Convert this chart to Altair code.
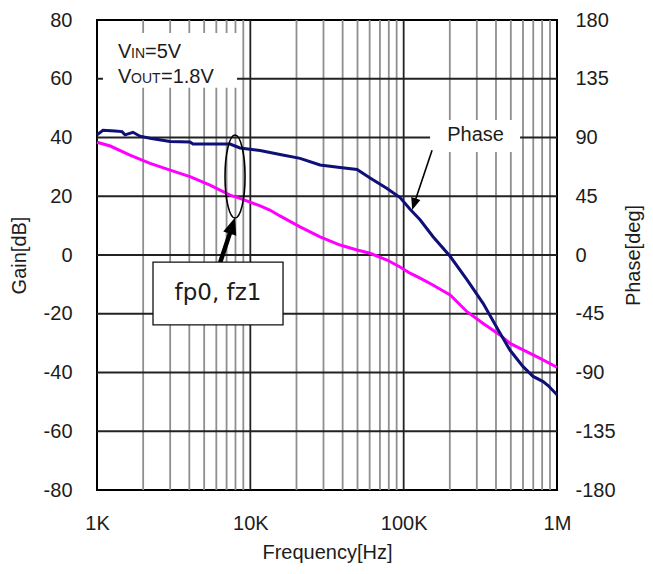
import altair as alt
import pandas as pd

# ---------------- data ----------------
freq_gain = [1000, 1220, 1640, 2220, 3000, 4040, 5460, 7370, 8570, 11600, 13400,
             15600, 21100, 28500, 38500, 49700, 60400, 77900, 94700, 110000,
             128000, 155000, 201000, 259000, 330000, 425000, 494000, 601000,
             776000, 1000000]
gain_db = [38.4, 37.1, 34.0, 31.2, 28.9, 26.7, 23.8, 20.4, 19.3, 16.7, 15.3,
           13.3, 9.6, 6.2, 3.4, 1.7, 0.6, -1.7, -4.1, -6.2,
           -7.9, -10.2, -13.6, -19.3, -23.3, -27.2, -30.1, -32.3,
           -35.2, -38.2]

freq_phase = [1000, 1094, 1310, 1456, 1523, 1716, 1908, 2217, 2994, 4043, 4228,
              7372, 8567, 11570, 15620, 21100, 28490, 38470, 49660, 60390,
              77930, 94740, 110100, 127900, 155500, 200800, 259200, 329600,
              425400, 494400, 601000, 698400, 811800, 874800, 1000000]
phase_deg = [92, 95.5, 95, 94.5, 92, 94, 91, 89.5, 87, 86.5, 85,
             85, 82, 80, 77, 74, 69, 67, 65.5, 59,
             51, 44, 35, 27, 14, -1, -19, -37,
             -60, -73, -85.5, -93, -97, -100, -107]

minor_freqs = [m * d for d in (1000, 10000, 100000) for m in range(2, 10)]
major_freqs = [10000, 100000]
gain_grid = [-60, -40, -20, 0, 20, 40, 60]
gain_ticks = [-80, -60, -40, -20, 0, 20, 40, 60, 80]
phase_ticks = [-180, -135, -90, -45, 0, 45, 90, 135, 180]
x_ticks = [1000, 10000, 100000, 1000000]
x_labels = ["1K", "10K", "100K", "1M"]

X_DOMAIN = [1000, 1000000]
GAIN_DOMAIN = [-80, 80]
PHASE_DOMAIN = [-180, 180]

FONT = "Liberation Sans"
TXT = "#1c1c1c"
NAVY = "#0f0f78"
MAGENTA = "#ff00ff"


def xs():
    return alt.Scale(type="log", domain=X_DOMAIN)


def gs():
    return alt.Scale(domain=GAIN_DOMAIN, nice=False, zero=False)


label_expr = " : ".join(
    f"datum.value == {v} ? '{t}'" for v, t in zip(x_ticks[:-1], x_labels[:-1])
) + f" : '{x_labels[-1]}'"

# the same axis definition is given to every layer so that the shared x axis merges cleanly
X_AXIS = dict(
    values=x_ticks, labelExpr=label_expr, grid=False, ticks=False, domain=False,
    labelPadding=23, labelFontSize=20, labelFlush=False, labelOverlap=False,
    title="Frequency[Hz]", titleFontSize=20, titlePadding=9)


def X(field):
    return alt.X(field, scale=xs(), axis=alt.Axis(**X_AXIS))


y_axis = alt.Axis(
    values=gain_ticks, labelExpr="toString(datum.value)", grid=False, ticks=False,
    domain=False, labelPadding=25, labelFontSize=20, labelOverlap=False,
    title="Gain[dB]", titleFontSize=20, titlePadding=14)
p_axis = alt.Axis(
    orient="right", values=phase_ticks, labelExpr="toString(datum.value)",
    grid=False, ticks=False, domain=False,
    labelPadding=18, labelFontSize=20, labelOverlap=False,
    title="Phase[deg]", titleFontSize=20, titlePadding=8,
    titleAngle=270, titleBaseline="top")

# ---------------- grid ----------------
minor_v = alt.Chart(pd.DataFrame({"f": minor_freqs})).mark_rule(
    color="#8f8f8f", strokeWidth=1.8
).encode(x=X("f:Q"))

major_v = alt.Chart(pd.DataFrame({"f": major_freqs})).mark_rule(
    color="#222222", strokeWidth=1.8
).encode(x=X("f:Q"))

major_h = alt.Chart(pd.DataFrame({"g": gain_grid})).mark_rule(
    color="#222222", strokeWidth=1.8
).encode(y=alt.Y("g:Q", scale=gs(), axis=y_axis))


# ---------------- white label backgrounds ----------------
def box(x1, x2, y1, y2, stroke=None):
    kw = dict(fill="white")
    if stroke:
        kw.update(stroke=stroke, strokeWidth=1.3)
    return alt.Chart(pd.DataFrame({"x1": [x1], "x2": [x2], "y1": [y1], "y2": [y2]})).mark_rect(**kw).encode(
        x=X("x1:Q"), x2="x2:Q",
        y=alt.Y("y1:Q", scale=gs(), axis=None), y2="y2:Q")


vin_box = box(1094, 8190, 56.9, 75.6)
phase_box = box(148700, 574500, 35.1, 46.0)
fp_box = box(2319, 16340, -23.8, -2.4, stroke="#111111")

# ---------------- curves ----------------
gain_df = pd.DataFrame({"f": freq_gain, "g": gain_db})
gain_line = alt.Chart(gain_df).mark_line(color=MAGENTA, strokeWidth=3).encode(
    x=X("f:Q"),
    y=alt.Y("g:Q", scale=gs(), axis=None),
)

phase_df = pd.DataFrame({"f": freq_phase, "p": phase_deg})
phase_line = alt.Chart(phase_df).mark_line(color=NAVY, strokeWidth=3).encode(
    x=X("f:Q"),
    y=alt.Y("p:Q", scale=alt.Scale(domain=PHASE_DOMAIN, nice=False, zero=False), axis=p_axis),
)


# ---------------- annotations ----------------
def seg(x1, y1, x2, y2, width):
    return alt.Chart(pd.DataFrame({"x1": [x1], "x2": [x2], "y1": [y1], "y2": [y2]})).mark_rule(
        color="black", strokeWidth=width).encode(
        x=X("x1:Q"), x2="x2:Q",
        y=alt.Y("y1:Q", scale=gs(), axis=None), y2="y2:Q")


ARROW = "M0,-1L0.8,1L-0.8,1Z"


def head(x, y, angle, size):
    return alt.Chart(pd.DataFrame({"x": [x], "y": [y]})).mark_point(
        shape=ARROW, filled=True, color="black", opacity=1, size=size, angle=angle
    ).encode(x=X("x:Q"), y=alt.Y("y:Q", scale=gs(), axis=None))


fp_arrow = seg(6342, -2.7, 7641, 10.0, 4.5)
fp_head = head(7641, 10.0, 18, 290)
ph_arrow = seg(153200, 35.7, 116750, 17.3, 1.6)
ph_head = head(116750, 17.3, 198, 144)

ELLIPSE = ("M0,-1C0.133,-1 0.241,-0.552 0.241,0C0.241,0.552 0.133,1 0,1"
           "C-0.133,1 -0.241,0.552 -0.241,0C-0.241,-0.552 -0.133,-1 0,-1Z")
ellipse = alt.Chart(pd.DataFrame({"x": [7947], "y": [26.7]})).mark_point(
    shape=ELLIPSE, filled=False, color="black", strokeWidth=1.6, opacity=1, size=6889
).encode(x=X("x:Q"), y=alt.Y("y:Q", scale=gs(), axis=None))


def text(x, y, s, size, dx=0, align="left", baseline="alphabetic", font=FONT):
    return alt.Chart(pd.DataFrame({"x": [x], "y": [y]})).mark_text(
        text=s, fontSize=size, font=font, color=TXT, align=align, baseline=baseline, dx=dx
    ).encode(x=X("x:Q"), y=alt.Y("y:Q", scale=gs(), axis=None))


VX = 1371
vin_parts = [
    text(VX, 67.0, "V", 20, 0),
    text(VX, 67.0, "IN", 14, 13),
    text(VX, 67.0, "=5V", 20, 27),
]
vout_parts = [
    text(VX, 58.6, "V", 20, 0),
    text(VX, 58.6, "OUT", 14, 13),
    text(VX, 58.6, "=1.8V", 20, 43),
]
phase_label = text(294400, 40.8, "Phase", 20, align="center", baseline="middle")
fp_label = text(6152, -12.9, "fp0, fz1", 23, align="center", baseline="middle", font="DejaVu Sans")

chart = alt.layer(
    minor_v, major_v, major_h, vin_box, phase_box,
    gain_line, phase_line,
    ellipse, fp_arrow, fp_head, fp_box, fp_label,
    ph_arrow, ph_head, phase_label, *vin_parts, *vout_parts,
).resolve_scale(y="independent").properties(
    width=460, height=470,
    padding={"left": 89, "top": 12, "right": 88, "bottom": 76},
    autosize=alt.AutoSizeParams(type="none"),
).configure_view(stroke="black", strokeWidth=2).configure_axis(
    labelFont=FONT, titleFont=FONT, labelColor=TXT, titleColor=TXT,
    titleFontWeight="normal",
)

chart.save("out.html", embed_options={"renderer": "svg", "actions": False})
